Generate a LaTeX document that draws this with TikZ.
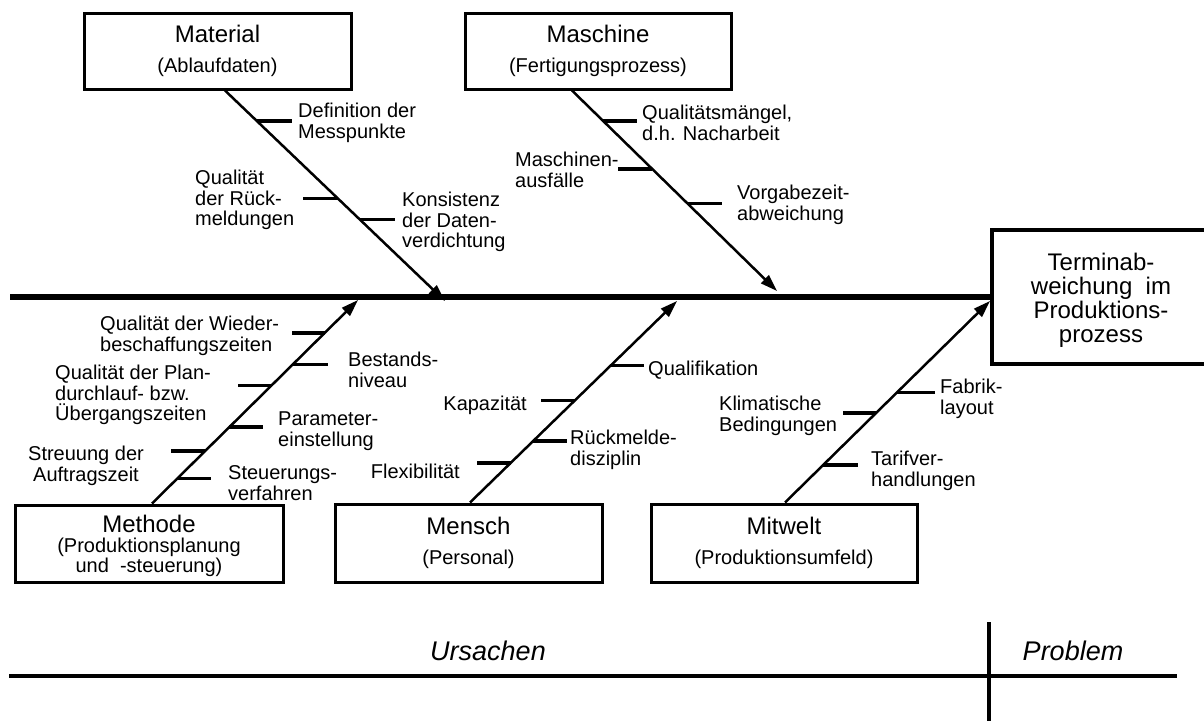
\documentclass[tikz,border=0pt]{standalone}
\usepackage{fontspec}
\setmainfont{Liberation Sans}
\usetikzlibrary{arrows.meta,calc}
\newcommand\mysubfont{\fontsize{20}{30}\selectfont}
\newcommand\mysubfontb{\fontsize{20}{20}\selectfont}
\begin{document}
\begin{tikzpicture}[x=1pt,y=-1pt,
  box/.style={draw, line width=3pt, inner sep=0pt, align=center,
    minimum width=267pt, minimum height=76pt, font=\fontsize{24}{30}\selectfont},
  lbl/.style={inner sep=0pt, font=\fontsize{20}{20.5}\selectfont, align=left, yshift=-3pt},
  spine/.style={line width=2.5pt, -{Triangle[length=17pt,width=11pt]}},
  rib/.style={line width=3.5pt},
  mainline/.style={line width=6.5pt},
  tabline/.style={line width=4.3pt},
  foot/.style={inner sep=0pt, anchor=base, font=\fontsize{27}{27}\selectfont\itshape}
]
\useasboundingbox (0,0) rectangle (1204,720);

% cause boxes
\node[box] (mat) at (217.5,51) {Material\\{\mysubfont (Ablaufdaten)}};
\node[box, minimum width=266pt] (mas) at (598,51) {Maschine\\{\mysubfont (Fertigungsprozess)}};
\node[box, minimum width=268pt, minimum height=77pt, font=\fontsize{24}{20}\selectfont] (met) at (149,543.5)
  {\rule{0pt}{22pt}Methode\\{\mysubfontb (Produktionsplanung}\\{\mysubfontb und~~-steuerung)}};
\node[box, minimum height=78pt] (men) at (468.5,543) {Mensch\\{\mysubfont (Personal)}};
\node[box, minimum width=266pt, minimum height=78pt] (mit) at (784,543) {Mitwelt\\{\mysubfont (Produktionsumfeld)}};

% problem box
\node[box, line width=4pt, minimum width=218pt, minimum height=134pt,
  font=\fontsize{24}{24}\selectfont] (prob) at (1101,297)
  {\rule{0pt}{24pt}Terminab-\\weichung~~im\\Produktions-\\prozess};

% main line
\coordinate (mainL) at (10,297);
\draw[mainline] (mainL) -- (prob.west);

% spines
\coordinate (matS) at ([xshift=7.5pt]mat.south);
\coordinate (matT) at (445,301);
\coordinate (masS) at ([xshift=-26pt]mas.south);
\coordinate (masT) at (777,291);
\coordinate (metS) at ([xshift=3pt]met.north);
\coordinate (metT) at (358,300);
\coordinate (menS) at ([xshift=1.5pt]men.north);
\coordinate (menT) at (677,301);
\coordinate (mitS) at ([xshift=1pt]mit.north);
\coordinate (mitT) at (990,301);
\draw[spine] (matS) -- (matT);
\draw[spine] (masS) -- (masT);
\draw[spine] (metS) -- (metT);
\draw[spine] (menS) -- (menT);
\draw[spine] (mitS) -- (mitT);

% rib points
\coordinate (a1) at ($(matS)!0.146!(matT)$);
\coordinate (a2) at ($(matS)!0.514!(matT)$);
\coordinate (a3) at ($(matS)!0.613!(matT)$);
\coordinate (b1) at ($(masS)!0.153!(masT)$);
\coordinate (b2) at ($(masS)!0.391!(masT)$);
\coordinate (b3) at ($(masS)!0.564!(masT)$);
\coordinate (c1) at ($(metS)!0.839!(metT)$);
\coordinate (c2) at ($(metS)!0.683!(metT)$);
\coordinate (c3) at ($(metS)!0.580!(metT)$);
\coordinate (c4) at ($(metS)!0.376!(metT)$);
\coordinate (c5) at ($(metS)!0.259!(metT)$);
\coordinate (c6) at ($(metS)!0.122!(metT)$);
\coordinate (d1) at ($(menS)!0.680!(menT)$);
\coordinate (d2) at ($(menS)!0.507!(menT)$);
\coordinate (d3) at ($(menS)!0.305!(menT)$);
\coordinate (d4) at ($(menS)!0.197!(menT)$);
\coordinate (e1) at ($(mitS)!0.547!(mitT)$);
\coordinate (e2) at ($(mitS)!0.443!(mitT)$);
\coordinate (e3) at ($(mitS)!0.187!(mitT)$);

% ribs (right = +, left = -)
\draw[rib] (a1) -- ([xshift=35pt]a1);
\draw[rib] (a2) -- ([xshift=-35pt]a2);
\draw[rib] (a3) -- ([xshift=35pt]a3);
\draw[rib] (b1) -- ([xshift=34pt]b1);
\draw[rib] (b2) -- ([xshift=-34pt]b2);
\draw[rib] (b3) -- ([xshift=34pt]b3);
\draw[rib] (c1) -- ([xshift=-33pt]c1);
\draw[rib] (c2) -- ([xshift=35pt]c2);
\draw[rib] (c3) -- ([xshift=-33pt]c3);
\draw[rib] (c4) -- ([xshift=34pt]c4);
\draw[rib] (c5) -- ([xshift=-34pt]c5);
\draw[rib] (c6) -- ([xshift=34pt]c6);
\draw[rib] (d1) -- ([xshift=33pt]d1);
\draw[rib] (d2) -- ([xshift=-34pt]d2);
\draw[rib] (d3) -- ([xshift=34pt]d3);
\draw[rib] (d4) -- ([xshift=-34pt]d4);
\draw[rib] (e1) -- ([xshift=38pt]e1);
\draw[rib] (e2) -- ([xshift=-33pt]e2);
\draw[rib] (e3) -- ([xshift=35pt]e3);

% labels
\node[lbl, anchor=west] (la1) at (298,120) {Definition der\\Messpunkte};
\node[lbl, anchor=west] (la2) at (195,197) {Qualität\\der Rück-\\meldungen};
\node[lbl, anchor=west] (la3) at (402,219) {Konsistenz\\der Daten-\\verdichtung};
\node[lbl, anchor=west] (lb1) at (642,120) {Qualitätsmängel,\\d.h. Nacharbeit};
\node[lbl, anchor=west] (lb2) at (515,167) {Maschinen-\\ausfälle};
\node[lbl, anchor=west] (lb3) at (737,202) {Vorgabezeit-\\abweichung};
\node[lbl, anchor=west] (lc1) at (100,333) {Qualität der Wieder-\\beschaffungszeiten};
\node[lbl, anchor=west] (lc2) at (348,367) {Bestands-\\niveau};
\node[lbl, anchor=west] (lc3) at (55,392) {Qualität der Plan-\\durchlauf- bzw.\\Übergangszeiten};
\node[lbl, anchor=west] (lc4) at (278,428) {Parameter-\\einstellung};
\node[lbl, align=center] (lc5) at (86,463) {Streuung der\\Auftragszeit};
\node[lbl, anchor=west] (lc6) at (228,480) {Steuerungs-\\verfahren};
\node[lbl, anchor=west] (ld1) at (648,367) {Qualifikation};
\node[lbl, anchor=east] (ld2) at (527,402) {Kapazität};
\node[lbl, anchor=west] (ld3) at (570,447) {Rückmelde-\\disziplin};
\node[lbl, anchor=east] (ld4) at (460,468) {Flexibilität};
\node[lbl, anchor=west] (le1) at (940,396) {Fabrik-\\layout};
\node[lbl, anchor=west] (le2) at (719,413) {Klimatische\\Bedingungen};
\node[lbl, anchor=west] (le3) at (871,468) {Tarifver-\\handlungen};

% bottom table
\coordinate (tabL) at (9,676);
\coordinate (tabR) at (1177,676);
\coordinate (sepT) at (989,622);
\coordinate (sepB) at (989,722);
\draw[tabline] (tabL) -- (tabR);
\draw[line width=4pt] (sepT) -- (sepB);
\node[foot] (urs) at (488,660) {Ursachen};
\node[foot] (pbl) at (1073,660) {Problem};
\end{tikzpicture}
\end{document}
